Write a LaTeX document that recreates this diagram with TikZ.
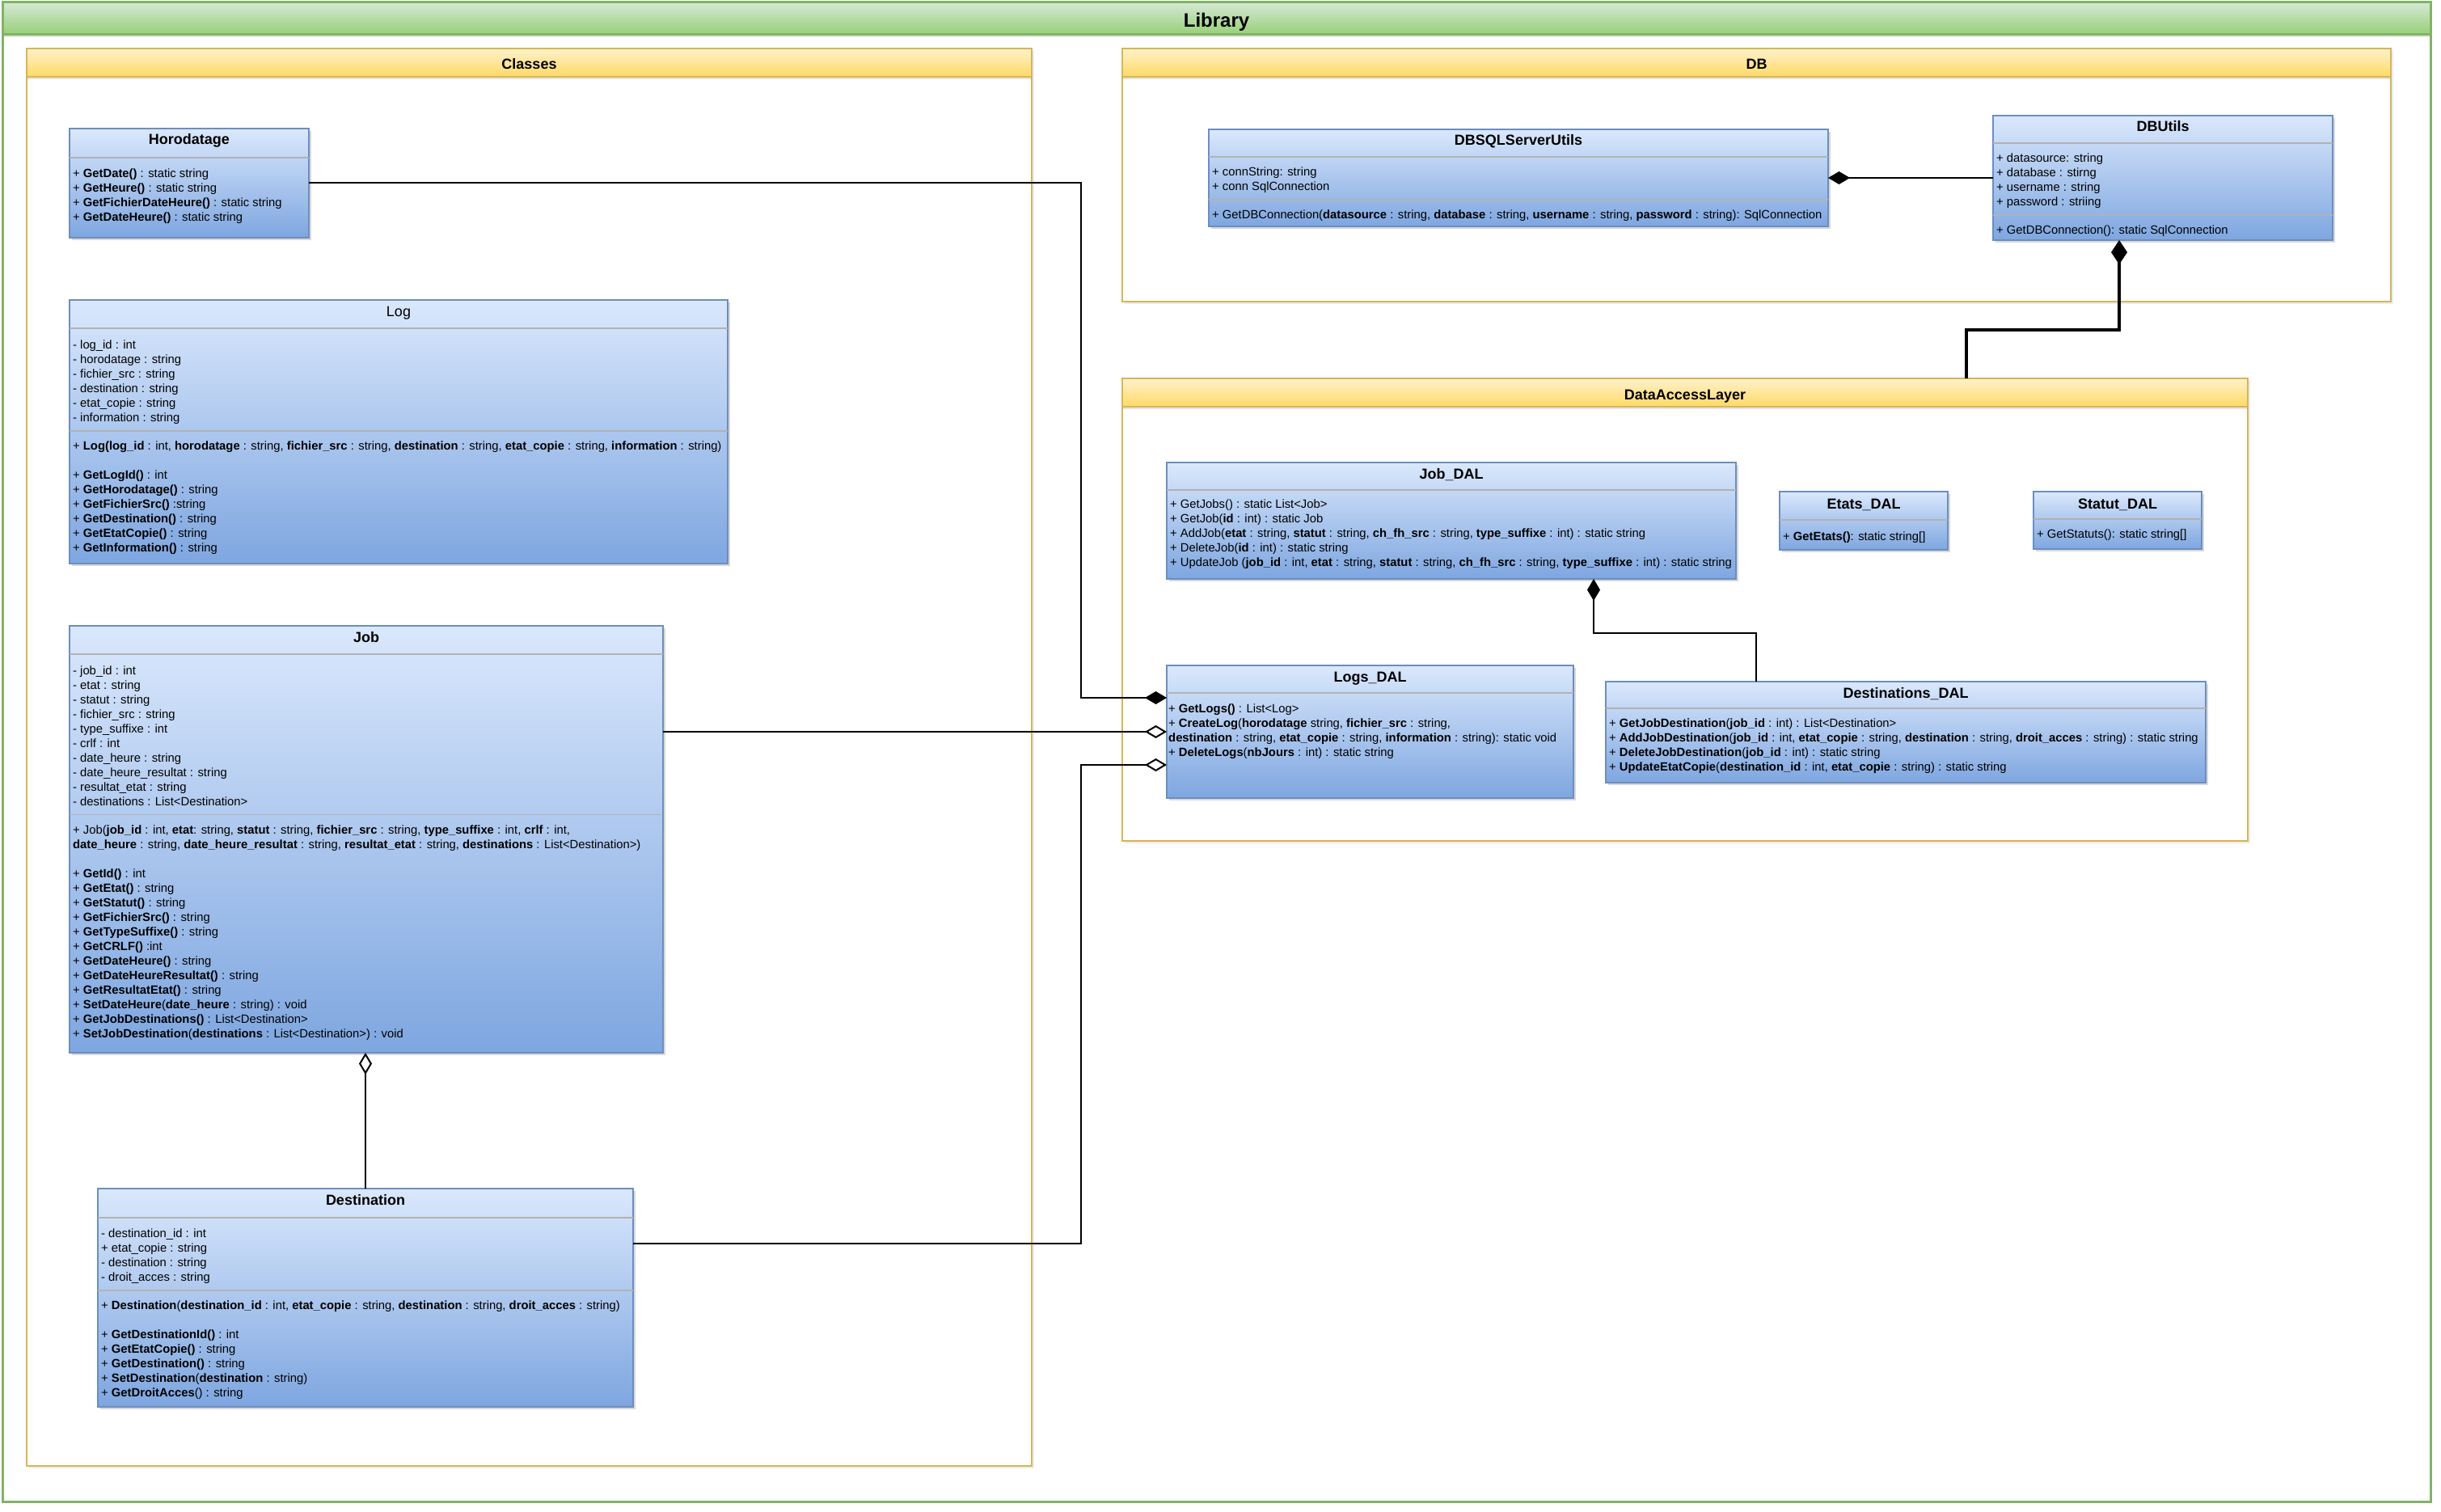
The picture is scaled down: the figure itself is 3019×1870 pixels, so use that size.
\documentclass[tikz,border=0pt]{standalone}
\usepackage{fontspec}
\setmainfont{Liberation Sans}
\usetikzlibrary{arrows.meta,shadows}
\definecolor{libline}{HTML}{82B366}
\definecolor{libtop}{HTML}{D5E8D4}
\definecolor{libbot}{HTML}{97D077}
\definecolor{pkgline}{HTML}{D6B656}
\definecolor{pkgtop}{HTML}{FFF2CC}
\definecolor{pkgbot}{HTML}{FFD966}
\definecolor{clsline}{HTML}{6C8EBF}
\definecolor{clstop}{HTML}{DAE8FC}
\definecolor{clsbot}{HTML}{7EA6E0}
\tikzset{
  corner/.style={anchor=north west, inner sep=0pt, outer sep=0pt},
  libbox/.style={corner, draw=libline, line width=3pt, fill=white},
  libhead/.style={corner, draw=libline, line width=3pt, top color=libtop, bottom color=libbot,
    minimum height=40pt, drop shadow={shadow xshift=0pt,shadow yshift=-3pt,opacity=.2}},
  pkg/.style={corner, draw=pkgline, line width=2pt, fill=white,
    drop shadow={shadow xshift=3pt,shadow yshift=-3pt,opacity=.15}},
  pkghead/.style={corner, draw=pkgline, line width=2pt, top color=pkgtop, bottom color=pkgbot,
    minimum height=35pt, drop shadow={shadow xshift=0pt,shadow yshift=-3pt,opacity=.2}},
  cls/.style={corner, draw=clsline, line width=1.5pt, top color=clstop, bottom color=clsbot,
    drop shadow={shadow xshift=3pt,shadow yshift=-3pt,opacity=.3}},
  libtitle/.style={anchor=base, inner sep=0pt, font=\fontsize{24pt}{28pt}\selectfont\bfseries},
  pkgtitle/.style={anchor=base, inner sep=0pt, font=\fontsize{18pt}{21pt}\selectfont\bfseries},
  clstitle/.style={anchor=base, inner sep=0pt, font=\fontsize{18pt}{21pt}\selectfont\bfseries},
  members/.style={anchor=north west, align=left, inner sep=0pt, font=\fontsize{14.8pt}{18pt}\selectfont},
  sepline/.style={draw=black!30, line width=1.2pt},
  link/.style={line width=2pt},
  comp/.style={-{Diamond[length=27pt,width=16pt]}},
  aggr/.style={-{Diamond[length=27pt,width=16pt,fill=white]}},
  heavy/.style={line width=4pt, -{Diamond[length=30pt,width=20pt]}}
}
\begin{document}
\begin{tikzpicture}[x=1pt,y=-1pt]
\useasboundingbox (0,0) rectangle (3019,1870);
% outer frame
\node[libbox, minimum width=3003pt, minimum height=1854pt] (library) at (3,3) {};
\node[libhead, minimum width=3003pt] (library-head) at (3,3) {};
\node[libtitle] (library-title) at (1504.5,34) {Library};
% the three packages
\node[pkg, minimum width=1243pt, minimum height=1753pt] (classes) at (33,60) {};
\node[pkghead, minimum width=1243pt] (classes-head) at (33,60) {};
\node[pkgtitle] (classes-title) at (654.5,86) {Classes};
\node[pkg, minimum width=1569pt, minimum height=313pt] (db) at (1388,60) {};
\node[pkghead, minimum width=1569pt] (db-head) at (1388,60) {};
\node[pkgtitle] (db-title) at (2172.5,86) {DB};
\node[pkg, minimum width=1392pt, minimum height=572pt] (dal) at (1388,468) {};
\node[pkghead, minimum width=1392pt] (dal-head) at (1388,468) {};
\node[pkgtitle] (dal-title) at (2084,494) {DataAccessLayer};
% class boxes
\node[cls, minimum width=296pt, minimum height=135pt] (horo) at (86,159) {};
\node[cls, minimum width=814pt, minimum height=326pt] (log) at (86,371) {};
\node[cls, minimum width=734pt, minimum height=528pt] (job) at (86,774) {};
\node[cls, minimum width=662pt, minimum height=270pt] (dest) at (121,1470) {};
\node[cls, minimum width=766pt, minimum height=120pt] (dbsql) at (1495,160) {};
\node[cls, minimum width=420pt, minimum height=154pt] (dbutils) at (2465,143) {};
\node[cls, minimum width=704pt, minimum height=144pt] (jobdal) at (1443,572) {};
\node[cls, minimum width=208pt, minimum height=72pt] (etatsdal) at (2201,608) {};
\node[cls, minimum width=208pt, minimum height=71pt] (statutdal) at (2515,608) {};
\node[cls, minimum width=503pt, minimum height=164pt] (logsdal) at (1443,823) {};
\node[cls, minimum width=742pt, minimum height=125pt] (destdal) at (1986,843) {};
% compartment lines
\foreach \n/\d in {horo/36, log/35, log/162, job/35, job/233.5, dest/36, dest/126,
    dbsql/34, dbsql/87, dbutils/34, dbutils/123, jobdal/34, etatsdal/35, statutdal/34,
    logsdal/34, destdal/33}
  \draw[sepline] ([yshift=-\d pt]\n.north west) -- ([yshift=-\d pt]\n.north east);
% titles
\node[clstitle] (horo-title) at ([yshift=-20pt]horo.north) {Horodatage};
\node[clstitle, font=\fontsize{18pt}{21pt}\selectfont] (log-title) at ([yshift=-20pt]log.north) {Log};
\node[clstitle] (job-title) at ([yshift=-20pt]job.north) {Job};
\node[clstitle] (dest-title) at ([yshift=-20pt]dest.north) {Destination};
\node[clstitle] (dbsql-title) at ([yshift=-20pt]dbsql.north) {DBSQLServerUtils};
\node[clstitle] (dbutils-title) at ([yshift=-20pt]dbutils.north) {DBUtils};
\node[clstitle] (jobdal-title) at ([yshift=-20pt]jobdal.north) {Job\_DAL};
\node[clstitle] (etatsdal-title) at ([yshift=-21pt]etatsdal.north) {Etats\_DAL};
\node[clstitle] (statutdal-title) at ([yshift=-21pt]statutdal.north) {Statut\_DAL};
\node[clstitle] (logsdal-title) at ([yshift=-20pt]logsdal.north) {Logs\_DAL};
\node[clstitle] (destdal-title) at ([yshift=-20pt]destdal.north) {Destinations\_DAL};
% members
\node[members] (horo-ops) at (90,206.4) {\strut+ \textbf{GetDate()} : static string\\
  + \textbf{GetHeure()} : static string\\
  + \textbf{GetFichierDateHeure()} : static string\\
  + \textbf{GetDateHeure()} : static string};
\node[members] (log-attrs) at (90,418.4) {\strut- log\_id : int\\
  - horodatage : string\\
  - fichier\_src : string\\
  - destination : string\\
  - etat\_copie : string\\
  - information : string};
\node[members] (log-ops) at (90,543.4) {\strut+ \textbf{Log(log\_id} : int, \textbf{horodatage} : string, \textbf{fichier\_src} : string, \textbf{destination} : string, \textbf{etat\_copie} : string, \textbf{information} : string)\\[18pt]
  + \textbf{GetLogId()} : int\\
  + \textbf{GetHorodatage()} : string\\
  + \textbf{GetFichierSrc()} :string\\
  + \textbf{GetDestination()} : string\\
  + \textbf{GetEtatCopie()} : string\\
  + \textbf{GetInformation()} : string};
\node[members] (job-attrs) at (90,821.4) {\strut- job\_id : int\\
  - etat : string\\
  - statut : string\\
  - fichier\_src : string\\
  - type\_suffixe : int\\
  - crlf : int\\
  - date\_heure : string\\
  - date\_heure\_resultat : string\\
  - resultat\_etat : string\\
  - destinations : List<Destination>};
\node[members] (job-ops) at (90,1018.4) {\strut+ Job(\textbf{job\_id} : int, \textbf{etat}: string, \textbf{statut} : string, \textbf{fichier\_src} : string, \textbf{type\_suffixe} : int, \textbf{crlf} : int,\\
  \textbf{date\_heure} : string, \textbf{date\_heure\_resultat} : string, \textbf{resultat\_etat} : string, \textbf{destinations} : List<Destination>)\\[18pt]
  + \textbf{GetId()} : int\\
  + \textbf{GetEtat()} : string\\
  + \textbf{GetStatut()} : string\\
  + \textbf{GetFichierSrc()} : string\\
  + \textbf{GetTypeSuffixe()} : string\\
  + \textbf{GetCRLF()} :int\\
  + \textbf{GetDateHeure()} : string\\
  + \textbf{GetDateHeureResultat()} : string\\
  + \textbf{GetResultatEtat()} : string\\
  + \textbf{SetDateHeure}(\textbf{date\_heure} : string) : void\\
  + \textbf{GetJobDestinations()} : List<Destination>\\
  + \textbf{SetJobDestination}(\textbf{destinations} : List<Destination>) : void};
\node[members] (dest-attrs) at (125,1517.4) {\strut- destination\_id : int\\
  + etat\_copie : string\\
  - destination : string\\
  - droit\_acces : string};
\node[members] (dest-ops) at (125,1606.4) {\strut+ \textbf{Destination}(\textbf{destination\_id} : int, \textbf{etat\_copie} : string, \textbf{destination} : string, \textbf{droit\_acces} : string)\\[18pt]
  + \textbf{GetDestinationId()} : int\\
  + \textbf{GetEtatCopie()} : string\\
  + \textbf{GetDestination()} : string\\
  + \textbf{SetDestination}(\textbf{destination} : string)\\
  + \textbf{GetDroitAcces}() : string};
\node[members] (dbsql-attrs) at (1499,204.4) {\strut+ connString: string\\
  + conn SqlConnection};
\node[members] (dbsql-ops) at (1499,257.4) {\strut+ GetDBConnection(\textbf{datasource} : string, \textbf{database} : string, \textbf{username} : string, \textbf{password} : string): SqlConnection};
\node[members] (dbutils-attrs) at (2469,187.4) {\strut+ datasource: string\\
  + database : stirng\\
  + username : string\\
  + password : striing};
\node[members] (dbutils-ops) at (2469,276.4) {\strut+ GetDBConnection(): static SqlConnection};
\node[members] (jobdal-ops) at (1447,615.4) {\strut+ GetJobs() : static List<Job>\\
  + GetJob(\textbf{id} : int) : static Job\\
  + AddJob(\textbf{etat} : string, \textbf{statut} : string, \textbf{ch\_fh\_src} : string, \textbf{type\_suffixe} : int) : static string\\
  + DeleteJob(\textbf{id} : int) : static string\\
  + UpdateJob (\textbf{job\_id} : int, \textbf{etat} : string, \textbf{statut} : string, \textbf{ch\_fh\_src} : string, \textbf{type\_suffixe} : int) : static string};
\node[members] (etatsdal-ops) at (2205,655.4) {\strut+ \textbf{GetEtats()}: static string[]};
\node[members] (statutdal-ops) at (2519,652.4) {\strut+ GetStatuts(): static string[]};
\node[members] (logsdal-ops) at (1445,868.4) {\strut+ \textbf{GetLogs()} : List<Log>\\
  + \textbf{CreateLog}(\textbf{horodatage} string, \textbf{fichier\_src} : string,\\
  \textbf{destination} : string, \textbf{etat\_copie} : string, \textbf{information} : string): static void\\
  + \textbf{DeleteLogs}(\textbf{nbJours} : int) : static string};
\node[members] (destdal-ops) at (1990,886.4) {\strut+ \textbf{GetJobDestination}(\textbf{job\_id} : int) : List<Destination>\\
  + \textbf{AddJobDestination}(\textbf{job\_id} : int, \textbf{etat\_copie} : string, \textbf{destination} : string, \textbf{droit\_acces} : string) : static string\\
  + \textbf{DeleteJobDestination}(\textbf{job\_id} : int) : static string\\
  + \textbf{UpdateEtatCopie}(\textbf{destination\_id} : int, \textbf{etat\_copie} : string) : static string};
% connectors
\coordinate (bus) at (1337,0);
\coordinate (ld1) at ([yshift=42pt]logsdal.west);
\coordinate (ld3) at ([yshift=-41pt]logsdal.west);
\draw[link, comp] (horo.east) -| (bus |- ld1) -- (ld1);
\draw[link, aggr] (job.east |- logsdal.west) -- (logsdal.west);
\draw[link, aggr] ([yshift=67.5pt]dest.east) -| (bus |- ld3) -- (ld3);
\draw[link, aggr] (dest.north) -- (dest.north |- job.south);
\draw[link, comp] (dbutils.west) -- (dbsql.east);
\draw[heavy] ([xshift=348pt]dal-head.north) -- ++(0,-60) -| ([xshift=-54pt]dbutils.south);
\draw[link, comp] ([xshift=-185pt]destdal.north) -- ++(0,-60) -| ([xshift=176pt]jobdal.south);
\end{tikzpicture}
\end{document}
